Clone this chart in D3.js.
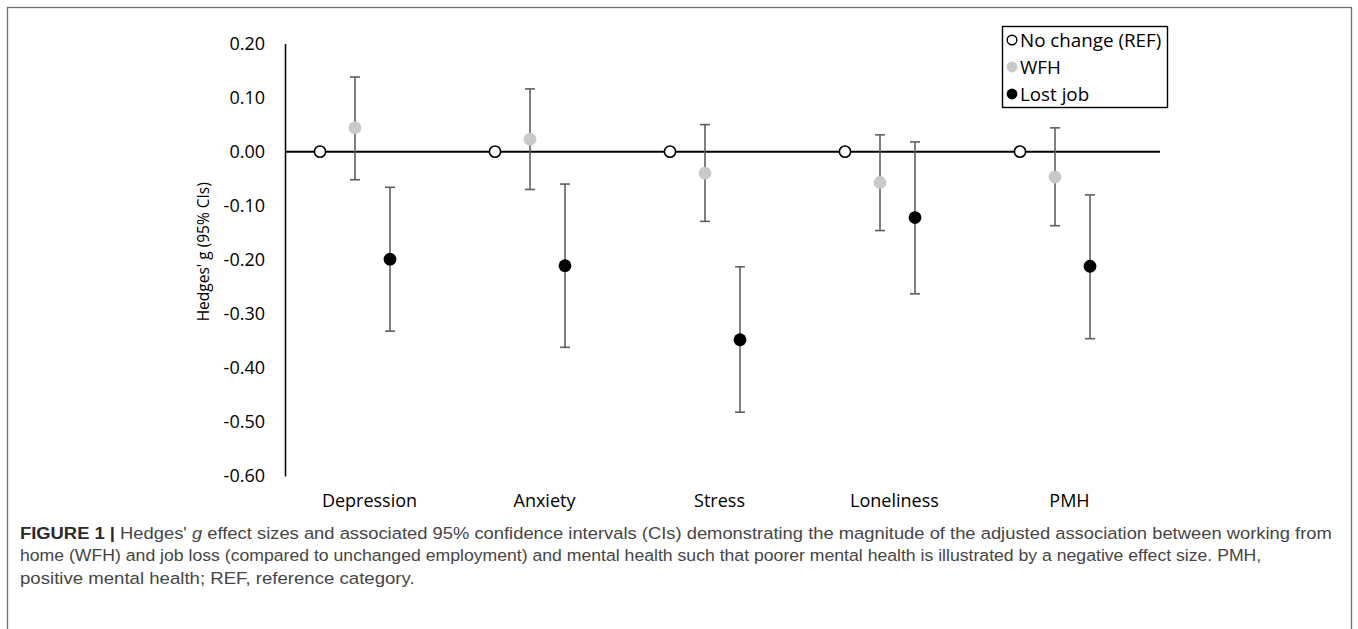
<!DOCTYPE html>
<html>
<head>
<meta charset="utf-8">
<script src="https://cdn.jsdelivr.net/npm/d3@7"></script>
<style>
  html, body { margin: 0; padding: 0; background: #fff; }
  svg { display: block; }
</style>
</head>
<body>
<svg id="chart" width="1358" height="629"></svg>
<script>
// ---------- data ----------
const categories = ["Depression", "Anxiety", "Stress", "Loneliness", "PMH"];
const refValues  = [0, 0, 0, 0, 0];
const wfhValues  = [0.044, 0.023, -0.040, -0.057, -0.047];
const wfhLower   = [-0.052, -0.070, -0.129, -0.146, -0.137];
const wfhUpper   = [0.138, 0.116, 0.050, 0.031, 0.044];
const lostValues = [-0.199, -0.211, -0.348, -0.122, -0.212];
const lostLower  = [-0.332, -0.362, -0.482, -0.263, -0.346];
const lostUpper  = [-0.066, -0.060, -0.213, 0.018, -0.080];
const yTickValues = [0.2, 0.1, 0.0, -0.1, -0.2, -0.3, -0.4, -0.5, -0.6];
const yTickLabels = ["0.20", "0.10", "0.00", "-0.10", "-0.20", "-0.30", "-0.40", "-0.50", "-0.60"];
const legendLabels = ["No change (REF)", "WFH", "Lost job"];
const yTitle = "Hedges' g (95% CIs)";
const captionLines = [
  [{t: "FIGURE 1 | ", b: true}, {t: "Hedges' "}, {t: "g", i: true}, {t: " effect sizes and associated 95% confidence intervals (CIs) demonstrating the magnitude of the adjusted association between working from"}],
  [{t: "home (WFH) and job loss (compared to unchanged employment) and mental health such that poorer mental health is illustrated by a negative effect size. PMH,"}],
  [{t: "positive mental health; REF, reference category."}]
];

// ---------- layout ----------
const svg = d3.select("#chart");
const font = "'Open Sans', 'Noto Sans', sans-serif";

// figure frame
svg.append("rect")
  .attr("x", 7.5).attr("y", 7.5).attr("width", 1344).attr("height", 640)
  .attr("fill", "none").attr("stroke", "#707070").attr("stroke-width", 1.3);

const x = d3.scaleLinear().domain([0, categories.length]).range([285, 1160]);
const y = d3.scaleLinear().domain([-0.6, 0.2]).range([476, 43.5]);

const series = [
  {name: "ref",  vals: refValues,  lo: null,      hi: null,      off: 0.2},
  {name: "wfh",  vals: wfhValues,  lo: wfhLower,  hi: wfhUpper,  off: 0.4},
  {name: "lost", vals: lostValues, lo: lostLower, hi: lostUpper, off: 0.6}
];

// y axis
const yAxis = d3.axisLeft(y)
  .tickValues(yTickValues)
  .tickFormat((d, i) => yTickLabels[i])
  .tickSize(0).tickPadding(20);
const gy = svg.append("g").attr("transform", `translate(${x(0)},0)`).call(yAxis);
gy.select(".domain").attr("stroke", "#000").attr("stroke-width", 1.5);
gy.selectAll("text").attr("font-family", font).attr("font-size", 18).attr("fill", "#000");

// zero line
svg.append("line")
  .attr("x1", x(0)).attr("x2", x(categories.length))
  .attr("y1", y(0)).attr("y2", y(0))
  .attr("stroke", "#000").attr("stroke-width", 2);

// category labels
svg.append("g").selectAll("text").data(categories).join("text")
  .attr("x", (d, i) => x(i + 0.5) - 3)
  .attr("y", 507)
  .attr("text-anchor", "middle")
  .attr("font-family", font).attr("font-size", 18).attr("fill", "#000")
  .text(d => d);

// y title
svg.append("text")
  .attr("transform", `translate(209,${(y(0.2) + y(-0.6)) / 2 - 8}) rotate(-90)`)
  .attr("text-anchor", "middle")
  .attr("font-family", font).attr("font-size", 15.5).attr("fill", "#000")
  .text(yTitle);

// error bars
const barColor = "#5f5f5f";
const capHalf = 5;
series.filter(s => s.lo).forEach(s => {
  const g = svg.append("g");
  categories.forEach((c, i) => {
    const cx = x(i + s.off);
    g.append("line").attr("x1", cx).attr("x2", cx)
      .attr("y1", y(s.hi[i])).attr("y2", y(s.lo[i]))
      .attr("stroke", barColor).attr("stroke-width", 1.6);
    [s.hi[i], s.lo[i]].forEach(v => {
      g.append("line").attr("x1", cx - capHalf).attr("x2", cx + capHalf)
        .attr("y1", y(v)).attr("y2", y(v))
        .attr("stroke", barColor).attr("stroke-width", 1.6);
    });
  });
});

// points
const styles = {
  ref:  {fill: "#fff", stroke: "#000", sw: 1.6, r: 5.6},
  wfh:  {fill: "#c9c9c9", stroke: "none", sw: 0, r: 6.4},
  lost: {fill: "#000", stroke: "none", sw: 0, r: 6.4}
};
series.forEach(s => {
  const st = styles[s.name];
  svg.append("g").selectAll("circle").data(s.vals).join("circle")
    .attr("cx", (d, i) => x(i + s.off))
    .attr("cy", d => y(d))
    .attr("r", st.r)
    .attr("fill", st.fill).attr("stroke", st.stroke).attr("stroke-width", st.sw);
});

// legend
const lg = svg.append("g");
lg.append("rect").attr("x", 1002.5).attr("y", 26.5).attr("width", 165).attr("height", 81)
  .attr("fill", "#fff").attr("stroke", "#000").attr("stroke-width", 1.4);
const legendKeys = ["ref", "wfh", "lost"];
legendLabels.forEach((lab, i) => {
  const cy = 40 + i * 27;
  const st = styles[legendKeys[i]];
  lg.append("circle").attr("cx", 1012).attr("cy", cy).attr("r", st.sw ? 4.8 : 5.4)
    .attr("fill", st.fill).attr("stroke", st.stroke).attr("stroke-width", st.sw ? 1.4 : 0);
  lg.append("text").attr("x", 1020).attr("y", cy).attr("dy", "0.35em")
    .attr("font-family", font).attr("font-size", 18.8).attr("fill", "#000")
    .text(lab);
});

// caption
const capFont = "'Liberation Sans Narrow', 'Liberation Sans', Arial, sans-serif";
const capTargets = [1313, 1242, 395];
const capY = [538.5, 561, 583.5];
captionLines.forEach((parts, li) => {
  const t = svg.append("text")
    .attr("font-family", capFont).attr("font-size", 17).attr("fill", "#454545");
  parts.forEach(p => {
    const ts = t.append("tspan").text(p.t);
    if (p.b) ts.attr("font-weight", "bold").attr("fill", "#2a2a2a");
    if (p.i) ts.attr("font-style", "italic");
  });
  const w = t.node().getComputedTextLength();
  const k = capTargets[li] / w;
  t.attr("transform", `translate(20,${capY[li]}) scale(${k},1)`);
});
</script>
</body>
</html>
